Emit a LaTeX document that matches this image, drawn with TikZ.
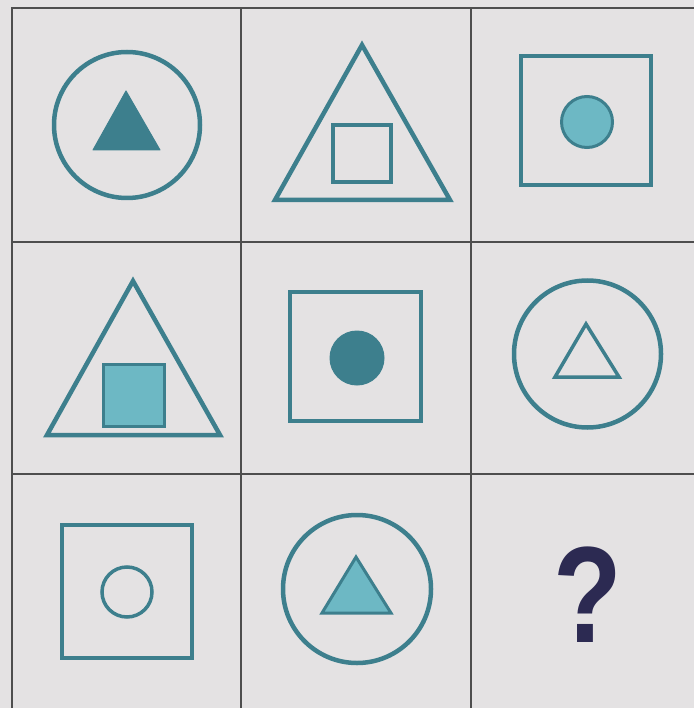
\documentclass[tikz,border=0pt]{standalone}
\usepackage{fontspec}
\newfontfamily\qfont{Liberation Sans}
\definecolor{bg}{HTML}{E4E2E3}
\definecolor{gridc}{HTML}{4E4E4E}
\definecolor{dteal}{HTML}{3D7F8D}
\definecolor{lteal}{HTML}{6DB8C4}
\definecolor{qnavy}{HTML}{2C2A52}
\tikzset{
  gridline/.style={draw=gridc, line width=1.8pt},
  outl/.style={draw=dteal, line width=4.5pt, line join=miter},
  smalloutl/.style={draw=dteal, line width=3.5pt, line join=miter},
  darkfill/.style={fill=dteal, draw=dteal, line width=1pt, line join=round},
  lightfill/.style={fill=lteal, draw=dteal, line width=3pt, line join=miter},
}
\begin{document}
\begin{tikzpicture}[x=1pt,y=-1pt]
\fill[bg] (0,0) rectangle (694,708);
\useasboundingbox (0,0) rectangle (694,708);
% grid
\draw[gridline] (12,708) -- (12,8) -- (694,8);
\draw[gridline] (241,8) -- (241,708);
\draw[gridline] (471,8) -- (471,708);
\draw[gridline] (12,242) -- (694,242);
\draw[gridline] (12,474) -- (694,474);
% cell 1,1
\draw[outl] (127,125) circle (73);
\fill[darkfill] (126,91) -- (160,150) -- (93,150) -- cycle;
% cell 1,2
\draw[outl] (362,45) -- (450,200) -- (275,200) -- cycle;
\draw[outl] (333,125) rectangle (391,182);
% cell 1,3
\draw[outl] (521,56) rectangle (651,185);
\draw[lightfill] (587,122) circle (25.5);
% cell 2,1
\draw[outl] (133,281) -- (220,435) -- (47,435) -- cycle;
\draw[lightfill] (103,364) rectangle (164,426);
% cell 2,2
\draw[outl] (290,292) rectangle (421,421);
\fill[darkfill] (357,358) circle (27);
% cell 2,3
\draw[outl] (587.5,354) circle (73.5);
\draw[smalloutl] (586,324) -- (619,377) -- (555,377) -- cycle;
% cell 3,1
\draw[outl] (62,525) rectangle (192,658);
\draw[smalloutl] (127,592) circle (25);
% cell 3,2
\draw[outl] (357,589) circle (74);
\draw[lightfill] (356,557) -- (391,613) -- (322,613) -- cycle;
% cell 3,3
\node[inner sep=0, text=qnavy, xscale=0.82] (q) at (587.5,595) {\qfont\bfseries\fontsize{137}{140}\selectfont ?};
\end{tikzpicture}
\end{document}
